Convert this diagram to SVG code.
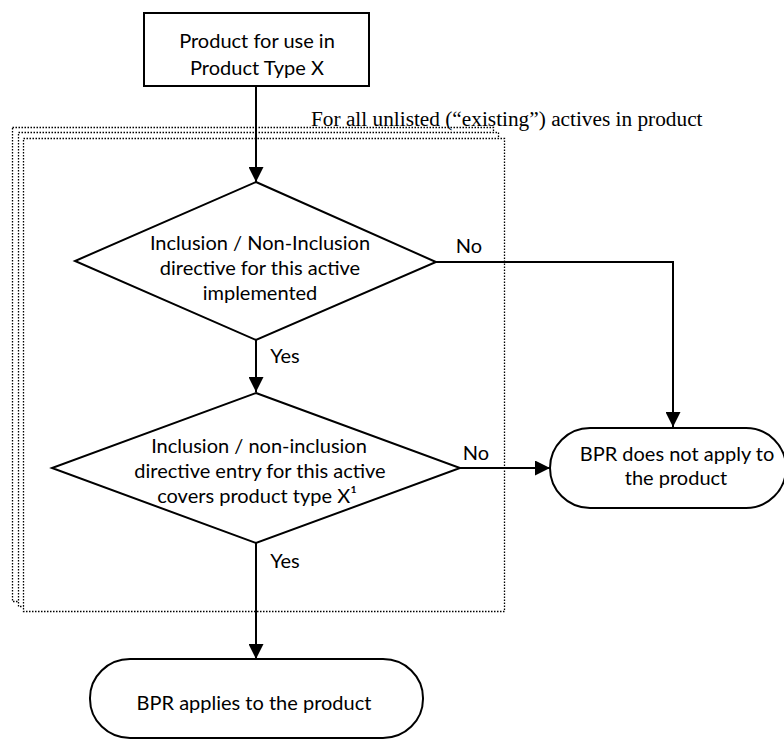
<svg xmlns="http://www.w3.org/2000/svg" width="784" height="740" viewBox="0 0 784 740">
  <style>
    .shape { fill: #ffffff; stroke: #000000; stroke-width: 2; }
    .group { fill: #ffffff; stroke: #000000; stroke-width: 1.3; stroke-dasharray: 1.5 1.5; }
    .conn { fill: none; stroke: #000000; stroke-width: 2; }
    .lbl { font-family: "Lato", "Open Sans", "Liberation Sans", sans-serif; font-size: 20px; fill: #000000; text-anchor: middle; }
    .note { font-family: "Liberation Serif", "Times New Roman", serif; font-size: 21.3px; fill: #000000; }
  </style>
  <defs>
    <marker id="arrow" viewBox="0 0 15 15" refX="15" refY="7.5" markerWidth="15" markerHeight="15" markerUnits="userSpaceOnUse" orient="auto">
      <path d="M0,0 L15,7.5 L0,15 z" fill="#000000"/>
    </marker>
  </defs>

  <g id="loop-frame">
    <rect class="group" x="12.5" y="127.5" width="481" height="474"/>
    <rect class="group" x="18.5" y="132.5" width="480" height="474"/>
    <rect class="group" x="23.5" y="138.5" width="481" height="473"/>
    <text class="note" x="311" y="126">For all unlisted (“existing”) actives in product</text>
  </g>

  <g id="start">
    <rect class="shape" x="144" y="13" width="225" height="73"/>
    <text class="lbl" x="257" y="48">Product for use in</text>
    <text class="lbl" x="257" y="75">Product Type X</text>
  </g>

  <g id="decision1">
    <polygon class="shape" points="256,182 436,262 256,340 75,261"/>
    <text class="lbl" x="260" y="250">Inclusion / Non-Inclusion</text>
    <text class="lbl" x="260" y="275">directive for this active</text>
    <text class="lbl" x="260" y="300">implemented</text>
  </g>

  <g id="decision2">
    <polygon class="shape" points="256,393 460,468 256,543 52,468"/>
    <text class="lbl" x="259" y="453">Inclusion / non-inclusion</text>
    <text class="lbl" x="260" y="478">directive entry for this active</text>
    <text class="lbl" x="257" y="503">covers product type X¹</text>
  </g>

  <g id="not-apply">
    <rect class="shape" x="550" y="428" width="236" height="80" rx="40" ry="40"/>
    <text class="lbl" x="677" y="461">BPR does not apply to</text>
    <text class="lbl" x="676" y="485">the product</text>
  </g>

  <g id="applies">
    <rect class="shape" x="90" y="659" width="333" height="79" rx="40" ry="39"/>
    <text class="lbl" x="254" y="710">BPR applies to the product</text>
  </g>

  <g id="connectors">
    <path class="conn" d="M256,86 L256,182" marker-end="url(#arrow)"/>
    <path class="conn" d="M256,340 L256,392" marker-end="url(#arrow)"/>
    <path class="conn" d="M256,543 L256,659" marker-end="url(#arrow)"/>
    <path class="conn" d="M436,262 L673,262 L673,427" marker-end="url(#arrow)"/>
    <path class="conn" d="M460,468 L550,468" marker-end="url(#arrow)"/>
    <text class="lbl" x="285" y="363">Yes</text>
    <text class="lbl" x="285" y="568">Yes</text>
    <text class="lbl" x="469" y="253">No</text>
    <text class="lbl" x="476" y="460">No</text>
  </g>
</svg>
